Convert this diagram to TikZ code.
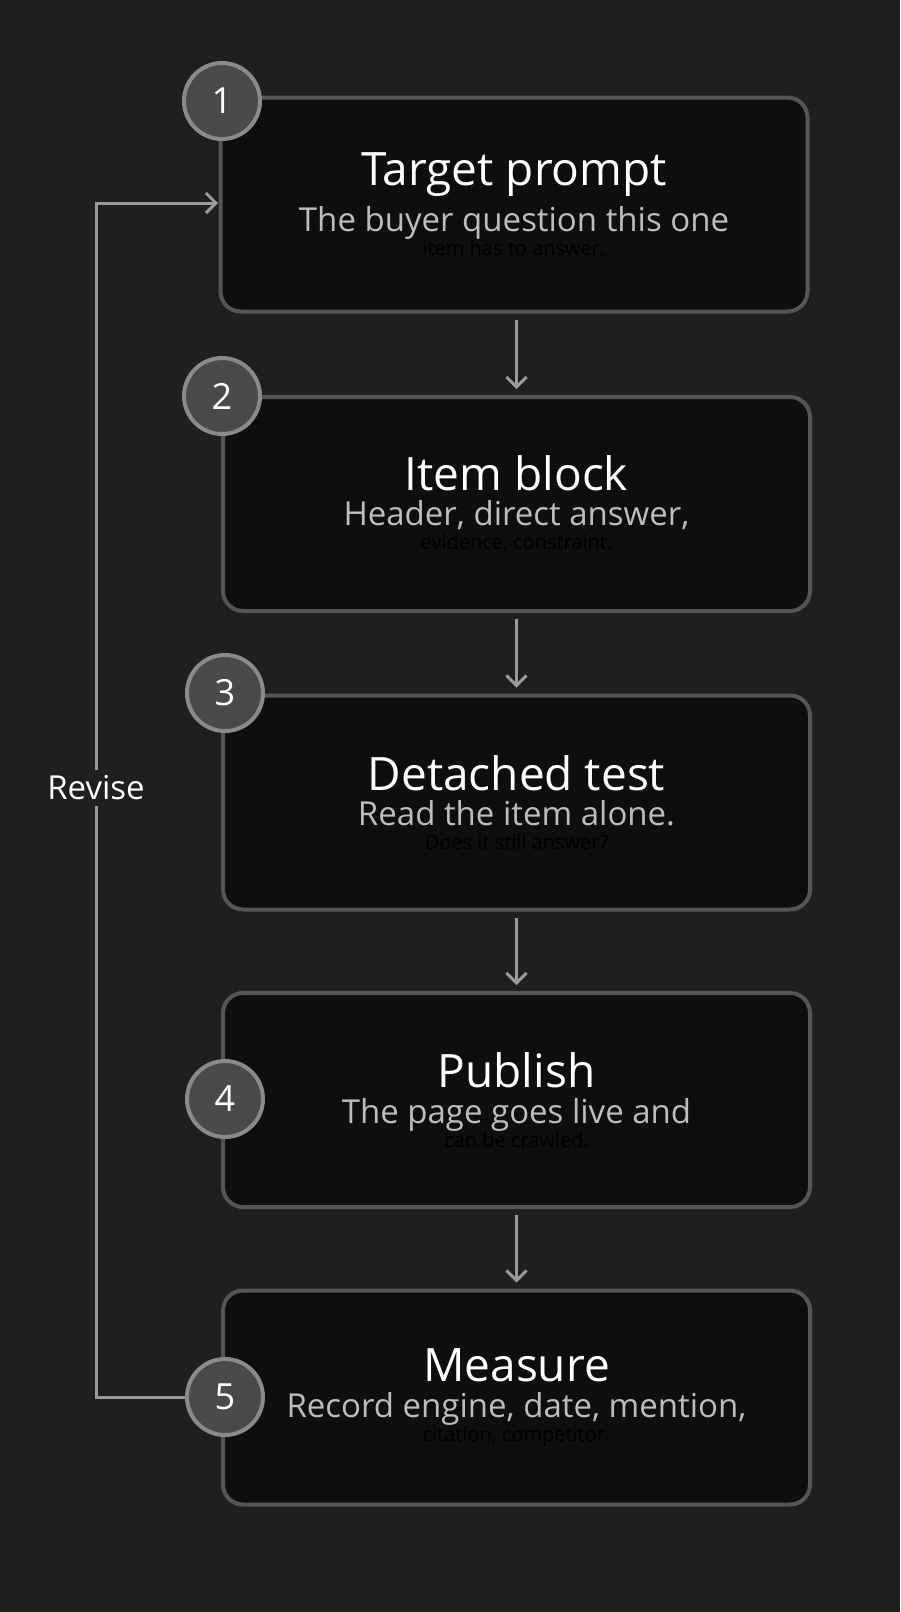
\documentclass[tikz,border=0pt]{standalone}
\usepackage{fontspec}
\setmainfont{Open Sans}
\usetikzlibrary{positioning,arrows.meta}
\definecolor{bgcol}{HTML}{1E1F20}
\definecolor{boxfill}{HTML}{0E0E0E}
\definecolor{boxline}{HTML}{555555}
\definecolor{badgefill}{HTML}{4A4A4A}
\definecolor{badgeline}{HTML}{8A8A8A}
\definecolor{flowcol}{HTML}{9A9A9A}
\definecolor{subcol}{HTML}{BDBDBD}
\tikzset{
  stepbox/.style={draw=boxline,line width=2pt,fill=boxfill,rounded corners=10pt,
    minimum width=293.5pt,minimum height=107pt,inner sep=0pt,align=center},
  badge/.style={circle,draw=badgeline,line width=2pt,fill=badgefill,
    minimum size=38pt,inner sep=0pt,text=white,font=\fontsize{18}{18}\selectfont},
  flow/.style={draw=flowcol,line width=1.5pt,-{Straight Barb[length=5pt,width=10pt,line width=1.5pt]}},
}
\newcommand{\stepcontent}[2]{%
  \fontsize{23}{27}\selectfont\color{white}#1\\[4pt]%
  \fontsize{16.5}{21}\selectfont\color{subcol}#2}
\begin{document}
\begin{tikzpicture}[x=0.5pt,y=-0.5pt]
\fill[bgcol] (0,0) rectangle (900,1612);
\useasboundingbox (0,0) rectangle (900,1612);
% steps
\node[stepbox] (s1) at (514,204.5) {\stepcontent{Target prompt}{The buyer question this one\\item has to answer.}};
\node[stepbox] (s2) at (516.5,504) {\stepcontent{Item block}{Header, direct answer,\\evidence, constraint.}};
\node[stepbox] (s3) at (516.5,802.5) {\stepcontent{Detached test}{Read the item alone.\\Does it still answer?}};
\node[stepbox] (s4) at (516.5,1100) {\stepcontent{Publish}{The page goes live and\\can be crawled.}};
\node[stepbox] (s5) at (516.5,1397.5) {\stepcontent{Measure}{Record engine, date, mention,\\citation, competitor.}};
% badges
\node[badge] (b1) at (222,101) {1};
\node[badge] (b2) at (222,396) {2};
\node[badge] (b3) at (225,693) {3};
\node[badge] (b4) at (225,1099) {4};
\node[badge] (b5) at (225,1397) {5};
% arrows
\foreach \a/\b in {s1/s2,s2/s3,s3/s4,s4/s5}
  \draw[flow] ([yshift=-3pt]\b.north |- \a.south) -- ([yshift=3pt]\b.north);
% revise loop
\coordinate (rv) at (218,203);
\draw[flow] (b5.west) -- (96,1397) -- (96,203) -- (rv);
\node[fill=bgcol,text=white,font=\fontsize{16.5}{20}\selectfont,inner sep=3pt] (rl) at (96,788) {Revise};
\end{tikzpicture}
\end{document}
